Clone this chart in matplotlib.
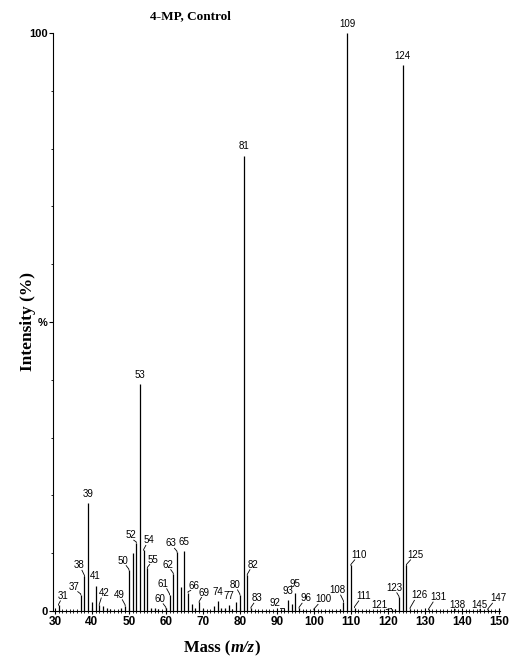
import matplotlib
matplotlib.use('Agg')
import matplotlib.pyplot as plt
from matplotlib.ticker import MultipleLocator

# peaks: m/z and relative intensity (%)
mz = [31, 37, 38, 39, 40, 41, 42, 43, 44, 45, 48, 49, 50, 51, 52, 53, 54, 55, 56, 57,
      58, 60, 61, 62, 63, 64, 65, 66, 67, 68, 69, 70, 73, 74, 75, 76, 77, 78, 79, 80,
      81, 82, 83, 91, 92, 93, 94, 95, 96, 97, 100, 107, 108, 109, 110, 111, 121, 122,
      123, 124, 125, 126, 131, 138, 145, 147]
intensity = [1.0, 2.8, 6.0, 18.7, 1.5, 4.4, 1.0, 0.8, 0.6, 0.3, 0.6, 0.9, 7.1, 10.0, 11.8,
             39.3, 10.5, 7.4, 0.6, 0.5, 0.3, 0.5, 2.8, 6.4, 10.2, 4.2, 10.4, 3.2, 1.2, 0.5,
             1.5, 0.3, 0.8, 1.7, 0.6, 0.5, 1.0, 0.4, 1.6, 2.8, 78.8, 6.2, 0.5, 0.3, 0.4,
             1.9, 1.2, 3.1, 0.5, 0.2, 0.2, 0.3, 1.6, 100.0, 7.9, 0.6, 0.3, 0.3, 2.4, 94.5,
             7.9, 0.4, 0.2, 0.2, 0.2, 0.2]

# labelled peaks
labelled = [31, 37, 38, 39, 41, 42, 49, 50, 52, 53, 54, 55, 60, 61, 62, 63, 65, 66, 69,
            74, 77, 80, 81, 82, 83, 92, 93, 95, 96, 100, 108, 109, 110, 111, 121, 123,
            124, 125, 126, 131, 138, 145, 147]

# where each label sits relative to its peak top (m/z, %); missing = straight above
label_offset = {
    31: (1.1, 1.6), 37: (-1.8, 1.4), 38: (-1.5, 1.9), 42: (1.2, 2.1), 49: (-1.7, 1.9),
    50: (-1.6, 1.6), 52: (-1.5, 1.3), 54: (1.3, 1.7), 55: (1.4, 1.5), 60: (-1.6, 1.6),
    61: (-1.7, 1.9), 62: (-1.5, 1.6), 63: (-1.5, 1.5), 66: (1.6, 1.2), 69: (1.4, 1.7),
    80: (-1.4, 1.7), 82: (1.6, 1.8), 83: (1.7, 1.7), 92: (-2.5, 1.0), 96: (1.8, 1.7),
    100: (2.5, 1.8), 108: (-1.7, 2.0), 110: (2.3, 1.8), 111: (2.5, 2.0), 121: (-3.2, 0.8),
    123: (-1.3, 1.6), 125: (2.5, 1.8), 126: (2.6, 2.3), 131: (2.7, 2.2), 138: (0.7, 0.8),
    145: (-0.4, 0.8), 147: (2.8, 2.0),
}

fig = plt.figure(figsize=(5.12, 6.69), dpi=100)
ax = fig.add_axes([53 / 512, 58 / 669, 447 / 512, 578 / 669])

ax.vlines(mz, 0, intensity, color='black', lw=0.9)

height = dict(zip(mz, intensity))
for m in labelled:
    h = height[m]
    if m in label_offset:
        dx, dy = label_offset[m]
        ax.text(m + dx, h + dy, str(m), ha='center', va='center', fontsize=7,
                family='Liberation Sans', clip_on=False)
        # leader line from the peak top to the label's lower edge
        ax.plot([m, m, m + 0.45 * dx], [h, h + 0.15, h + dy - 0.85], color='black', lw=0.6)
    else:
        ax.annotate(str(m), xy=(m, h), xytext=(0, 3), textcoords='offset points',
                    ha='center', va='bottom', fontsize=7, family='Liberation Sans',
                    annotation_clip=False)

ax.set_xlim(29.5, 150.3)
ax.set_ylim(0, 100)
ax.spines['top'].set_visible(False)
ax.spines['right'].set_visible(False)
ax.spines['left'].set_linewidth(0.8)
ax.spines['bottom'].set_linewidth(0.8)

ax.set_xticks(range(30, 151, 10))
ax.xaxis.set_minor_locator(MultipleLocator(1))
ax.tick_params(axis='x', which='major', direction='inout', length=5, width=0.8, pad=1,
               labelsize=8.5)
ax.tick_params(axis='x', which='minor', direction='inout', length=2.5, width=0.6)
ax.set_yticks([0, 50, 100])
ax.set_yticklabels(['0', '%', '100'])
ax.yaxis.set_minor_locator(MultipleLocator(10))
ax.tick_params(axis='y', which='major', direction='out', length=3, width=0.8, pad=1,
               labelsize=8)
ax.tick_params(axis='y', which='minor', direction='out', length=1.5, width=0.6)
for t in ax.get_xticklabels() + ax.get_yticklabels():
    t.set_family('Liberation Sans')
    t.set_fontweight('bold')

fig.text(190 / 512, 1 - 16 / 669, '4-MP, Control', ha='center', va='center',
         family='Liberation Serif', fontweight='bold', fontsize=9.5)
fig.text(28 / 512, 1 - 321 / 669, 'Intensity (%)', rotation=90, ha='center', va='center',
         family='Liberation Serif', fontweight='bold', fontsize=12.5)

# x label with italic m/z, built from three pieces
r = fig.canvas.get_renderer()
parts = [('Mass (', 'normal'), ('m/z', 'italic'), (')', 'normal')]
texts = []
for s, st in parts:
    texts.append(fig.text(0, 1 - 648 / 669, s, ha='left', va='center', family='Liberation Serif',
                          fontweight='bold', style=st, fontsize=12))
widths = [t.get_window_extent(r).width for t in texts]
x0 = 222 - sum(widths) / 2
for t, w in zip(texts, widths):
    t.set_x(x0 / 512)
    x0 += w

fig.savefig('out.png', dpi=100)
